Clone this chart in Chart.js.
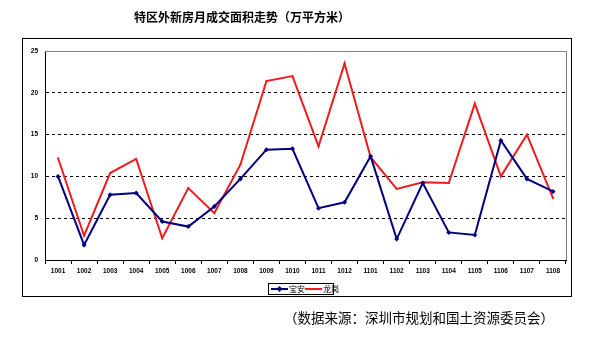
<!DOCTYPE html>
<html><head><meta charset="utf-8">
<script src="https://cdn.jsdelivr.net/npm/chart.js@4"></script>
<style>html,body{margin:0;padding:0;background:#fff}#w{width:608px;height:338px;position:relative}</style>
</head><body><div id="w"><canvas id="c" width="608" height="338"></canvas></div>
<script>
const categories = ['1001','1002','1003','1004','1005','1006','1007','1008','1009','1010','1011','1012','1101','1102','1103','1104','1105','1106','1107','1108'];
const baoan = [10.0, 1.8, 7.8, 8.0, 4.6, 4.0, 6.4, 9.7, 13.2, 13.3, 6.2, 6.9, 12.4, 2.5, 9.2, 3.3, 3.0, 14.3, 9.7, 8.2];
const longgang = [12.2, 2.9, 10.4, 12.1, 2.6, 8.6, 5.6, 11.4, 21.4, 22.0, 13.6, 23.5, 12.3, 8.5, 9.3, 9.2, 18.7, 10.0, 15.0, 7.4];
const seriesNames = ['宝安', '龙岗'];
const yTicks = [0, 5, 10, 15, 20, 25];
const titleText = '特区外新房月成交面积走势（万平方米）';
const sourceText = '（数据来源：深圳市规划和国土资源委员会）';

const BLUE = '#000080', RED = '#ee1c1c';
const cjk = '"Noto Sans CJK SC", sans-serif';

const deco = {
  id: 'deco',
  beforeDraw(chart) {
    const ctx = chart.ctx;
    ctx.save();
    ctx.fillStyle = '#fff';
    ctx.fillRect(0, 0, chart.width, chart.height);
    ctx.strokeStyle = '#000'; ctx.lineWidth = 1;
    ctx.strokeRect(22.5, 38.5, 549, 258);
    ctx.restore();
  },
  afterDraw(chart) {
    const ctx = chart.ctx, a = chart.chartArea;
    ctx.save();
    ctx.strokeStyle = '#808080'; ctx.lineWidth = 1;
    ctx.beginPath();
    ctx.moveTo(a.left, Math.round(a.top) + 0.5); ctx.lineTo(Math.round(a.right) + 0.5, Math.round(a.top) + 0.5);
    ctx.lineTo(Math.round(a.right) + 0.5, a.bottom);
    ctx.stroke();
    ctx.fillStyle = '#000';
    ctx.font = 'bold 12px ' + cjk;
    ctx.textAlign = 'center'; ctx.textBaseline = 'middle';
    ctx.fillText(titleText, 242, 17);
    ctx.font = '13.5px ' + cjk;
    ctx.fillText(sourceText, 419, 318);
    const lx = 268, ly = 283, lw = 65, lh = 11;
    ctx.strokeStyle = '#000'; ctx.lineWidth = 1;
    ctx.strokeRect(lx + 0.5, ly + 0.5, lw, lh);
    const cy = ly + 6;
    ctx.lineWidth = 2;
    ctx.strokeStyle = BLUE; ctx.beginPath(); ctx.moveTo(lx + 3, cy); ctx.lineTo(lx + 20, cy); ctx.stroke();
    ctx.fillStyle = BLUE; ctx.beginPath(); ctx.moveTo(lx + 11.5, cy - 3); ctx.lineTo(lx + 14.5, cy); ctx.lineTo(lx + 11.5, cy + 3); ctx.lineTo(lx + 8.5, cy); ctx.closePath(); ctx.fill();
    ctx.strokeStyle = RED; ctx.beginPath(); ctx.moveTo(lx + 37, cy); ctx.lineTo(lx + 54, cy); ctx.stroke();
    ctx.fillStyle = '#000'; ctx.font = '8px ' + cjk; ctx.textAlign = 'left';
    ctx.fillText(seriesNames[0], lx + 21, cy);
    ctx.fillText(seriesNames[1], lx + 55, cy);
    ctx.restore();
  }
};

const tickFont = { family: '"Liberation Sans", sans-serif', size: 6.5, weight: 'bold' };

new Chart(document.getElementById('c'), {
  type: 'line',
  data: {
    labels: categories,
    datasets: [
      { label: seriesNames[0], data: baoan, borderColor: BLUE, backgroundColor: BLUE, borderWidth: 2,
        pointStyle: 'rectRot', pointRadius: 2.5, pointBorderWidth: 0, tension: 0 },
      { label: seriesNames[1], data: longgang, borderColor: RED, backgroundColor: RED, borderWidth: 2,
        pointStyle: 'rect', pointRadius: 1.2, pointBorderWidth: 0, tension: 0 }
    ]
  },
  options: {
    responsive: false, animation: false, devicePixelRatio: 1,
    layout: { padding: { left: 22, top: 51, right: 42, bottom: 58 } },
    plugins: { legend: { display: false }, title: { display: false }, tooltip: { enabled: false } },
    scales: {
      x: {
        offset: true,
        grid: { display: true, drawOnChartArea: false, drawTicks: true, tickLength: 4, offset: true, color: '#000' },
        border: { display: true, color: '#000', width: 1 },
        ticks: { color: '#000', font: tickFont, padding: 3, maxRotation: 0, autoSkip: false },
        afterFit(s) { s.height = 20; }
      },
      y: {
        min: 0, max: 25,
        afterBuildTicks(s) { s.ticks = yTicks.map(v => ({ value: v })); },
        grid: { drawTicks: false, color: ctx => (ctx.tick && (ctx.tick.value === 0 || ctx.tick.value === 25)) ? 'rgba(0,0,0,0)' : '#000', lineWidth: 1 },
        border: { display: true, color: '#000', width: 1, dash: [3, 3] },
        ticks: { color: '#000', font: tickFont, padding: 7 },
        afterFit(s) { s.width = 23; }
      }
    }
  },
  plugins: [deco]
});
</script>
</body></html>
